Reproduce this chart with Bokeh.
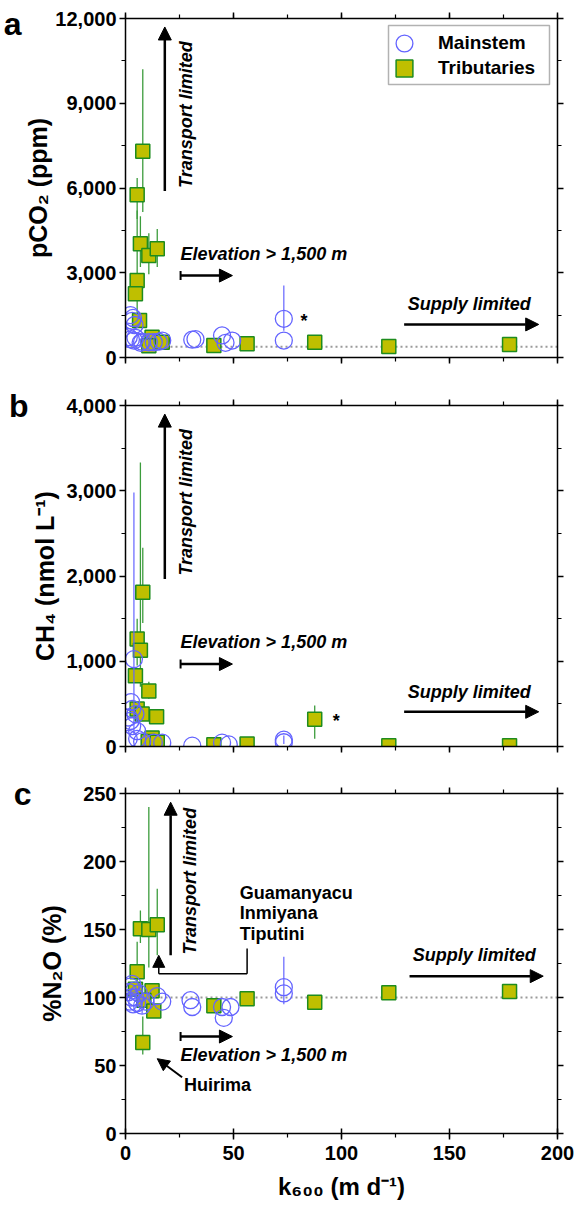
import math

from bokeh.embed import file_html
from bokeh.layouts import column
from bokeh.models import (Arrow, BoxAnnotation, ColumnDataSource, CustomJSTickFormatter,
                          FixedTicker, Label, Legend, LegendItem, LinearAxis, NormalHead,
                          NumeralTickFormatter, Range1d, SingleIntervalTicker, Span, TeeHead)
from bokeh.plotting import figure
from bokeh.resources import INLINE

NaN = float("nan")

# ---------------- data: gas transfer velocity k600 (m d-1) vs concentration ----------------
# (a) pCO2 (ppm)
main_k600_a = [2.3, 3.5, 3.1, 4.2, 1.5, 2.5, 3.9, 4.6, 7.0, 7.7, 10.8, 13.1, 15.4, 17.0,
               30.9, 32.4, 44.7, 46.3, 49.4, 73.3, 73.3]
main_pco2 = [1500, 1400, 1300, 1150, 720, 640, 600, 700, 520, 560, 540, 540, 560, 600,
             630, 650, 780, 520, 600, 1370, 600]
main_pco2_lo = [NaN] * 19 + [950, NaN]
main_pco2_hi = [NaN] * 19 + [2550, NaN]

trib_k600_a = [8.0, 5.4, 6.9, 10.8, 14.7, 5.4, 4.6, 6.5, 12.3, 10.8, 17.0,
               40.9, 56.3, 87.6, 121.9, 177.8]
trib_pco2 = [7300, 5760, 4030, 3610, 3850, 2730, 2260, 1310, 720, 420, 540,
             425, 485, 540, 390, 460]
trib_pco2_lo = [5150, 4900, 3200, 2950, 3200, 1300] + [NaN] * 10
trib_pco2_hi = [10200, 6350, 5000, 4400, 4550, 5200] + [NaN] * 10

# (b) CH4 (nmol L-1)
main_k600_b = [3.9, 2.6, 3.1, 1.5, 2.3, 4.6, 3.1, 5.4, 1.5, 5.4, 7.7, 13.1, 17.0,
               30.9, 44.7, 47.8, 73.3, 73.3]
main_ch4 = [1025, 520, 440, 340, 300, 380, 240, 180, 90, 90, 60, 45, 45,
            10, 45, 25, 80, 50]
main_ch4_lo = [150] + [NaN] * 15 + [30, NaN]
main_ch4_hi = [2980] + [NaN] * 15 + [130, NaN]

trib_k600_b = [8.0, 5.4, 6.9, 4.6, 10.8, 5.4, 7.7, 14.4, 12.3, 10.5, 14.7,
               40.9, 56.3, 87.6, 121.9, 177.8]
trib_ch4 = [1810, 1260, 1130, 830, 650, 440, 380, 350, 100, 60, 50,
            20, 28, 320, 8, 8]
trib_ch4_lo = [1450, 950, 700, NaN, 560] + [NaN] * 8 + [90, NaN, NaN]
trib_ch4_hi = [2330, 1500, 3330, NaN, 760] + [NaN] * 8 + [480, NaN, NaN]

# (c) N2O saturation (%)
main_k600_c = [1.5, 2.3, 3.1, 3.9, 2.0, 3.5, 4.6, 5.4, 6.2, 7.7, 2.7, 9.2, 14.7, 17.0,
               30.1, 30.9, 44.7, 45.5, 48.6, 73.3, 73.3]
main_n2o = [104, 108, 110, 105, 97, 95, 100, 96, 103, 94, 100, 97, 101, 97,
            98, 93, 93, 85, 93, 107.6, 103]
main_n2o_lo = [NaN] * 9 + [88] + [NaN] * 10 + [95]
main_n2o_hi = [NaN] * 9 + [100] + [NaN] * 10 + [130]

trib_k600_c = [6.9, 10.8, 14.7, 5.4, 4.6, 12.3, 8.5, 13.1, 8.0,
               40.9, 56.3, 87.6, 121.9, 177.8]
trib_n2o = [150.5, 150, 153.5, 119, 106, 105, 98, 90, 67,
            94, 99, 96.5, 103.5, 104.4]
trib_n2o_lo = [140, 122, 131, 112, NaN, NaN, NaN, NaN, 58] + [NaN] * 5
trib_n2o_hi = [164, 240, 180, 141, NaN, NaN, NaN, NaN, 86] + [NaN] * 5

# atmospheric equilibrium levels
CO2_EQ = 380
N2O_EQ = 100

# ---------------- styling ----------------
FONT = "Liberation Sans"
BLUE = "#6464ff"
OLIVE = "#bfbf00"
GREEN = "#1e8c1e"
ERR_GREEN = "#3c9c3c"
FRAME_W = 432


def style_axis(ax, show_labels):
    ax.axis_line_width = 1.5
    ax.axis_line_color = "black"
    ax.major_tick_line_width = 1.5
    ax.minor_tick_line_width = 1.2
    ax.major_tick_out = 6
    ax.major_tick_in = 0
    ax.minor_tick_out = 4
    ax.minor_tick_in = 0
    ax.major_label_text_font = FONT
    ax.major_label_text_font_style = "bold"
    ax.major_label_text_color = "black"
    if show_labels:
        ax.major_label_text_font_size = "20px"
        ax.major_label_standoff = 3
    else:
        ax.formatter = CustomJSTickFormatter(code="return ''")
        ax.major_label_text_font_size = "0px"
        ax.major_label_standoff = 0


def make_panel(ymax, ystep, ylabel, letter, frame_h, top, bottom, show_x,
               label_standoff, letter_standoff, letter_drop=0):
    p = figure(frame_width=FRAME_W, frame_height=frame_h,
               x_range=Range1d(0, 200), y_range=Range1d(0, ymax),
               output_backend="svg", toolbar_location=None,
               min_border_left=125, min_border_right=20,
               min_border_top=top, min_border_bottom=bottom)
    p.outline_line_color = None
    p.grid.visible = False

    xt = SingleIntervalTicker(interval=50, num_minor_ticks=2)
    yt = SingleIntervalTicker(interval=ystep, num_minor_ticks=2)

    bx = p.xaxis[0]
    bx.ticker = xt
    style_axis(bx, show_x)
    if show_x:
        bx.major_tick_in = 5
        bx.major_label_standoff = 6
        bx.axis_label = "k₆₀₀ (m d⁻¹)"
        bx.axis_label_text_font = FONT
        bx.axis_label_text_font_style = "bold"
        bx.axis_label_text_font_size = "24px"
        bx.axis_label_text_color = "black"
        bx.axis_label_standoff = 10

    ly = p.yaxis[0]
    ly.ticker = yt
    ly.formatter = NumeralTickFormatter(format="0,0")
    style_axis(ly, True)
    ly.axis_label = ylabel
    ly.axis_label_text_font = FONT
    ly.axis_label_text_font_style = "bold"
    ly.axis_label_text_font_size = "25px"
    ly.axis_label_text_color = "black"
    ly.axis_label_standoff = label_standoff

    # panel letter, set as the single tick label of an outer, line-less axis
    letter_at = int(round(ymax - letter_drop * ymax / frame_h))
    la = LinearAxis(ticker=FixedTicker(ticks=[letter_at]),
                    major_label_overrides={letter_at: letter})
    la.axis_line_color = None
    la.major_tick_line_color = None
    la.minor_tick_line_color = None
    la.major_tick_out = 0
    la.major_tick_in = 0
    la.minor_tick_out = 0
    la.minor_tick_in = 0
    la.major_label_text_font = FONT
    la.major_label_text_font_style = "bold"
    la.major_label_text_font_size = "32px"
    la.major_label_text_color = "black"
    la.major_label_standoff = letter_standoff

    ax_top = LinearAxis(ticker=xt)
    style_axis(ax_top, False)
    p.add_layout(ax_top, "above")
    ax_right = LinearAxis(ticker=yt)
    style_axis(ax_right, False)
    p.add_layout(ax_right, "right")
    p.add_layout(la, "left")
    return p


def add_points(p, mk, my, mlo, mhi, tk, ty, tlo, thi):
    ts = ColumnDataSource(dict(x=tk, y=ty, lo=tlo, hi=thi))
    ms = ColumnDataSource(dict(x=mk, y=my, lo=mlo, hi=mhi))
    p.segment(x0="x", y0="lo", x1="x", y1="hi", source=ts, line_color=ERR_GREEN, line_width=1.3)
    rt = p.scatter("x", "y", source=ts, marker="square", size=14,
                   fill_color=OLIVE, line_color=GREEN, line_width=1.5)
    p.segment(x0="x", y0="lo", x1="x", y1="hi", source=ms, line_color=BLUE, line_width=1.2)
    rm = p.scatter("x", "y", source=ms, marker="circle", size=17,
                   fill_color=None, line_color=BLUE, line_width=1.3)
    return rm, rt


def arrow(p, x0, y0, x1, y1, width=2.5, head=13, tee=False):
    end = NormalHead(size=head, fill_color="black", line_color="black") if head else None
    start = TeeHead(size=9, line_width=2, line_color="black") if tee else None
    p.add_layout(Arrow(x_start=x0, y_start=y0, x_end=x1, y_end=y1, end=end, start=start,
                       line_color="black", line_width=width))


def note(p, x, y, text, italic=True, size="18px", align="left", angle=0.0):
    p.add_layout(Label(x=x, y=y, text=text, text_font=FONT,
                       text_font_style="bold italic" if italic else "bold",
                       text_font_size=size, text_align=align, text_baseline="middle",
                       angle=angle, text_color="black"))


# ---------------- panel a ----------------
pa = make_panel(12000, 3000, "pCO₂ (ppm)", "a", 339, 18, 24, False, 0, 0, letter_drop=5)
pa.add_layout(Span(location=CO2_EQ, dimension="width", line_color="#9a9a9a",
                   line_width=2, line_dash="2 3", level="underlay"))
rm, rt = add_points(pa, main_k600_a, main_pco2, main_pco2_lo, main_pco2_hi,
                    trib_k600_a, trib_pco2, trib_pco2_lo, trib_pco2_hi)
arrow(pa, 18.2, 5890, 18.2, 11700)
note(pa, 28.1, 8600, "Transport limited", angle=math.pi / 2, align="center")
arrow(pa, 25.5, 2900, 49.5, 2900, tee=True)
note(pa, 25.5, 3650, "Elevation > 1,500 m")
arrow(pa, 129.0, 1170, 191.3, 1170)
note(pa, 130.7, 1900, "Supply limited")
note(pa, 81.0, 1280, "*", italic=False, size="18px")

# legend: framed box with one entry per series (frame-relative screen units)
pa.add_layout(BoxAnnotation(left=263, right=424, bottom=273, top=332,
                            left_units="screen", right_units="screen",
                            bottom_units="screen", top_units="screen",
                            fill_color="white", fill_alpha=1.0,
                            line_color="black", line_width=1.5))
for item, loc in [(LegendItem(label="Mainstem", renderers=[rm]), (258, 293)),
                  (LegendItem(label="Tributaries", renderers=[rt]), (258, 268))]:
    pa.add_layout(Legend(items=[item], location=loc, margin=0, padding=0,
                         glyph_width=42, glyph_height=42, label_standoff=13,
                         border_line_color=None, background_fill_alpha=0.0,
                         label_text_font=FONT, label_text_font_style="bold",
                         label_text_font_size="19px", label_text_color="black"))

# ---------------- panel b ----------------
pb = make_panel(4000, 1000, "CH₄ (nmol L⁻¹)", "b", 341, 24, 23, False, 4, 0)
add_points(pb, main_k600_b, main_ch4, main_ch4_lo, main_ch4_hi,
           trib_k600_b, trib_ch4, trib_ch4_lo, trib_ch4_hi)
arrow(pb, 18.2, 1964, 18.2, 3899)
note(pb, 28.1, 2865, "Transport limited", angle=math.pi / 2, align="center")
arrow(pb, 25.5, 967, 49.5, 967, tee=True)
note(pb, 25.5, 1220, "Elevation > 1,500 m")
arrow(pb, 129.0, 407, 191.3, 407)
note(pb, 130.7, 641, "Supply limited")
note(pb, 96.0, 300, "*", italic=False, size="18px")

# ---------------- panel c ----------------
pc = make_panel(250, 50, "%N₂O (%)", "c", 340, 24, 82, True, 14, 4)
pc.add_layout(Span(location=N2O_EQ, dimension="width", line_color="#9a9a9a",
                   line_width=2, line_dash="2 3", level="underlay"))
add_points(pc, main_k600_c, main_n2o, main_n2o_lo, main_n2o_hi,
           trib_k600_c, trib_n2o, trib_n2o_lo, trib_n2o_hi)
arrow(pc, 20.9, 131, 20.9, 243.6)
note(pc, 29.8, 185.5, "Transport limited", angle=math.pi / 2, align="center")
arrow(pc, 25.5, 71.3, 49.5, 71.3, tee=True)
note(pc, 25.5, 57.4, "Elevation > 1,500 m")
arrow(pc, 131.5, 115.7, 193.4, 115.7)
note(pc, 133.0, 130.9, "Supply limited")
# site call-outs
note(pc, 52.9, 177.2, "Guamanyacu", italic=False)
note(pc, 52.9, 162.5, "Inmiyana", italic=False)
note(pc, 52.9, 147.0, "Tiputini", italic=False)
arrow(pc, 56.3, 136.0, 56.3, 117.4, width=1.5, head=0)
arrow(pc, 56.3, 117.4, 15.4, 117.4, width=1.5, head=0)
arrow(pc, 15.4, 117.4, 15.4, 131.0, width=1.5, head=12)
arrow(pc, 26.2, 41.4, 14.7, 55.0, width=2.0, head=12)
note(pc, 27.1, 36.0, "Huirima", italic=False)

layout = column(pa, pb, pc, spacing=0)
open("out.html", "w").write(file_html(layout, INLINE))
